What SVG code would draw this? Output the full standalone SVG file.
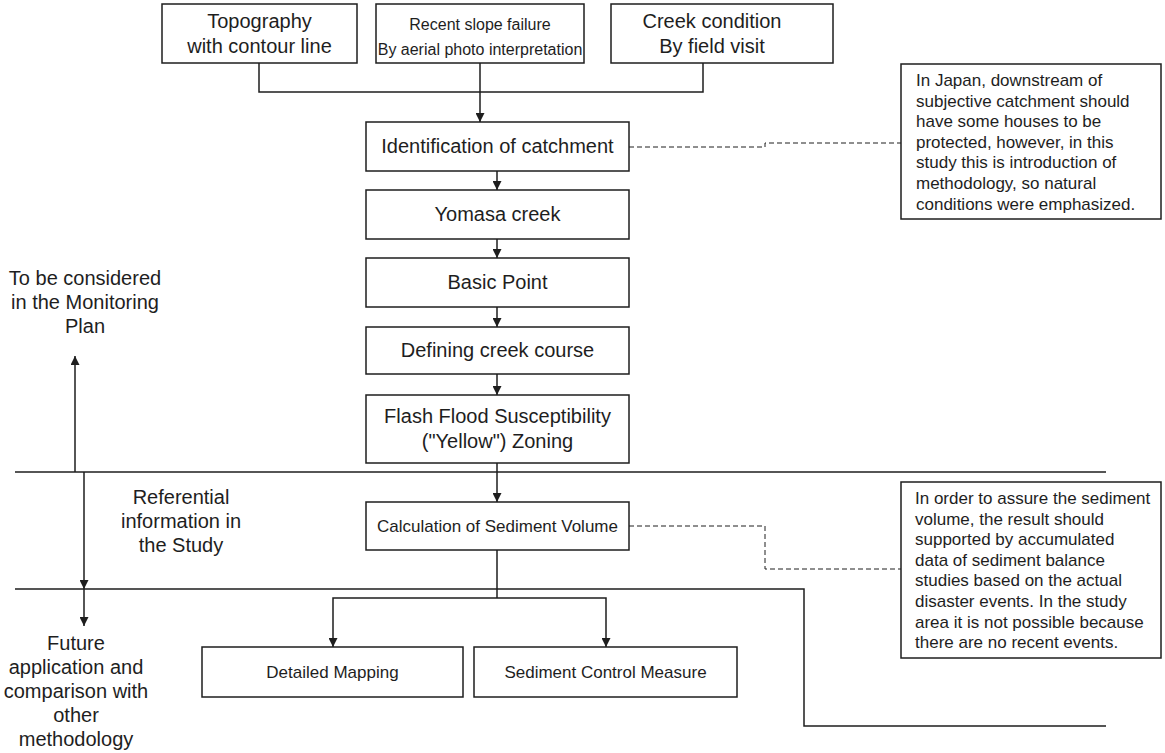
<svg xmlns="http://www.w3.org/2000/svg" width="1165" height="753" viewBox="0 0 1165 753">
  <defs>
    <style>
      .box { fill: #ffffff; stroke: #1e1e1e; stroke-width: 1.5; }
      .line { fill: none; stroke: #1e1e1e; stroke-width: 1.5; }
      .dash { fill: none; stroke: #1e1e1e; stroke-width: 1; stroke-dasharray: 5 3; }
      .t20 { font-family: "Liberation Sans", Arial, sans-serif; font-size: 20px; fill: #1e1e1e; text-anchor: middle; }
      .t17 { font-family: "Liberation Sans", Arial, sans-serif; font-size: 17px; fill: #1e1e1e; text-anchor: middle; }
      .t16 { font-family: "Liberation Sans", Arial, sans-serif; font-size: 16px; fill: #1e1e1e; text-anchor: middle; }
      .note { font-family: "Liberation Sans", Arial, sans-serif; font-size: 17px; fill: #1e1e1e; }
    </style>
    <marker id="arrow" viewBox="0 0 10 10" refX="10" refY="5" markerWidth="10" markerHeight="9" markerUnits="userSpaceOnUse" orient="auto">
      <path d="M0,0 L10,5 L0,10 z" fill="#1e1e1e"/>
    </marker>
  </defs>
  <rect width="1165" height="753" fill="#ffffff"/>

  <!-- connectors, separators and dashed callout lines -->
  <g id="connectors">
    <path class="line" d="M259,63 V92 H703 V63"/>
    <path class="line" d="M480,63 V122" marker-end="url(#arrow)"/>
    <path class="line" d="M497,171 V190" marker-end="url(#arrow)"/>
    <path class="line" d="M497,239 V258" marker-end="url(#arrow)"/>
    <path class="line" d="M497,307 V327" marker-end="url(#arrow)"/>
    <path class="line" d="M497,374 V395" marker-end="url(#arrow)"/>
    <path class="line" d="M497,463 V502" marker-end="url(#arrow)"/>
    <path class="line" d="M497,550 V598"/>
    <path class="line" d="M497,598 H333 V647" marker-end="url(#arrow)"/>
    <path class="line" d="M497,598 H606 V647" marker-end="url(#arrow)"/>
    <!-- phase separators -->
    <path class="line" d="M15,472 H1106"/>
    <path class="line" d="M15,589 H804 V726 H1106"/>
    <!-- phase arrows on the left -->
    <path class="line" d="M75,472 V356" marker-end="url(#arrow)"/>
    <path class="line" d="M84,472 V589" marker-end="url(#arrow)"/>
    <path class="line" d="M84,589 V626" marker-end="url(#arrow)"/>
    <!-- callouts -->
    <path class="dash" d="M629,147 H765 V143 H901"/>
    <path class="dash" d="M629,526 H765 V569 H901"/>
  </g>

  <g id="topography">
    <rect class="box" x="162" y="4" width="195" height="59"/>
    <text class="t20" x="259.5" y="28">Topography</text>
    <text class="t20" x="259.5" y="53">with contour line</text>
  </g>
  <g id="slope-failure">
    <rect class="box" x="376" y="4" width="208" height="59"/>
    <text class="t16" x="480" y="30">Recent slope failure</text>
    <text class="t16" x="480" y="55">By aerial photo interpretation</text>
  </g>
  <g id="creek-condition">
    <rect class="box" x="611" y="4" width="222" height="59"/>
    <text class="t20" x="712" y="28">Creek condition</text>
    <text class="t20" x="712" y="53">By field visit</text>
  </g>

  <g id="identification">
    <rect class="box" x="366" y="122" width="263" height="49"/>
    <text class="t20" x="497.5" y="153">Identification of catchment</text>
  </g>
  <g id="yomasa">
    <rect class="box" x="366" y="190" width="263" height="49"/>
    <text class="t20" x="497.5" y="221">Yomasa creek</text>
  </g>
  <g id="basic-point">
    <rect class="box" x="366" y="258" width="263" height="49"/>
    <text class="t20" x="497.5" y="289">Basic Point</text>
  </g>
  <g id="creek-course">
    <rect class="box" x="366" y="327" width="263" height="47"/>
    <text class="t20" x="497.5" y="357">Defining creek course</text>
  </g>
  <g id="zoning">
    <rect class="box" x="366" y="395" width="263" height="68"/>
    <text class="t20" x="497.5" y="423">Flash Flood Susceptibility</text>
    <text class="t20" x="497.5" y="448">("Yellow") Zoning</text>
  </g>
  <g id="sediment-volume">
    <rect class="box" x="366" y="502" width="263" height="48"/>
    <text class="t17" x="497.5" y="532">Calculation of Sediment Volume</text>
  </g>
  <g id="detailed-mapping">
    <rect class="box" x="202" y="647" width="261" height="50"/>
    <text class="t17" x="332.5" y="678">Detailed Mapping</text>
  </g>
  <g id="control-measure">
    <rect class="box" x="474" y="647" width="263" height="50"/>
    <text class="t17" x="605.5" y="678">Sediment Control Measure</text>
  </g>

  <g id="note-catchment">
    <rect class="box" x="901" y="64" width="260" height="155"/>
    <text class="note" x="916" y="86">In Japan, downstream of</text>
    <text class="note" x="916" y="106.6">subjective catchment should</text>
    <text class="note" x="916" y="127.2">have some houses to be</text>
    <text class="note" x="916" y="147.8">protected, however, in this</text>
    <text class="note" x="916" y="168.4">study this is introduction of</text>
    <text class="note" x="916" y="189">methodology, so natural</text>
    <text class="note" x="916" y="209.6">conditions were emphasized.</text>
  </g>
  <g id="note-sediment">
    <rect class="box" x="901" y="482" width="260" height="176"/>
    <text class="note" x="915" y="504">In order to assure the sediment</text>
    <text class="note" x="915" y="524.6">volume, the result should</text>
    <text class="note" x="915" y="545.2">supported by accumulated</text>
    <text class="note" x="915" y="565.8">data of sediment balance</text>
    <text class="note" x="915" y="586.4">studies based on the actual</text>
    <text class="note" x="915" y="607">disaster events. In the study</text>
    <text class="note" x="915" y="627.6">area it is not possible because</text>
    <text class="note" x="915" y="648.2">there are no recent events.</text>
  </g>

  <g id="label-monitoring">
    <text class="t20" x="85" y="285">To be considered</text>
    <text class="t20" x="85" y="309">in the Monitoring</text>
    <text class="t20" x="85" y="333">Plan</text>
  </g>
  <g id="label-referential">
    <text class="t20" x="181" y="504">Referential</text>
    <text class="t20" x="181" y="528">information in</text>
    <text class="t20" x="181" y="552">the Study</text>
  </g>
  <g id="label-future">
    <text class="t20" x="76" y="650">Future</text>
    <text class="t20" x="76" y="674">application and</text>
    <text class="t20" x="76" y="698">comparison with</text>
    <text class="t20" x="76" y="722">other</text>
    <text class="t20" x="76" y="746">methodology</text>
  </g>
</svg>
